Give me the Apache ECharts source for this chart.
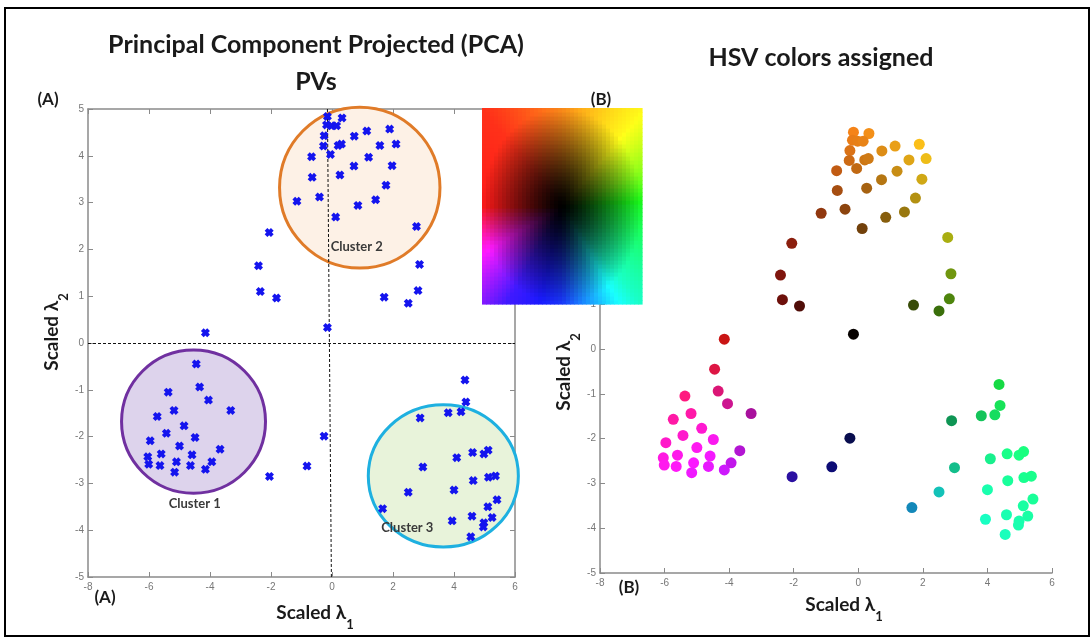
<!DOCTYPE html>
<html>
<head>
<meta charset="utf-8">
<script src="https://cdn.jsdelivr.net/npm/echarts@6/dist/echarts.min.js"></script>
<style>
html,body{margin:0;padding:0;background:#fff;}
#chart{width:1091px;height:639px;}
</style>
</head>
<body>
<div id="chart"></div>
<script>
// ---- data ----
const xVals = [
  -0.15, 0.33, -0.18, -0.02, 0.15, -0.26, 0.73, 1.14, 1.89, -0.28, 0.20, 0.31, -0.05, -0.67, 1.20, 1.57, 2.10,
  0.72, 1.97, -0.65, 0.26, 1.77, -1.15, -0.41, 1.43, 0.85, 0.12, 2.77, 2.87, 2.82, 1.71, 2.50,
  -2.06, -2.41, -2.35, -1.82, -4.15, -0.15,
  -4.45, -5.37, -4.34, -4.05, -3.32, -5.18, -5.73, -4.85, -5.43, -4.49, -5.96, -5.00, -3.67, -5.60, -4.59, -6.04,
  -3.94, -5.10, -6.01, -5.64, -4.64, -4.15, -5.16, -2.05,
  -0.26, -0.82,
  4.36, 4.39, 3.81, 4.23, 2.89, 4.61, 4.98, 5.12, 4.09, 2.98, 4.63, 5.13, 5.36, 4.00, 2.50, 5.41, 5.11, 1.66,
  4.59, 5.25, 3.94, 4.98, 4.96, 4.55
];
const yVals = [
  4.84, 4.81, 4.66, 4.64, 4.64, 4.43, 4.42, 4.53, 4.57, 4.21, 4.22, 4.25, 4.03, 3.98, 3.97, 4.22, 4.25,
  3.78, 3.79, 3.54, 3.59, 3.37, 3.03, 3.12, 3.06, 2.94, 2.69, 2.49, 1.68, 1.12, 0.98, 0.85,
  2.36, 1.65, 1.10, 0.96, 0.22, 0.33,
  -0.45, -1.05, -0.94, -1.22, -1.44, -1.44, -1.57, -1.77, -1.93, -2.02, -2.09, -2.20, -2.27, -2.37, -2.39, -2.43,
  -2.54, -2.54, -2.59, -2.62, -2.62, -2.70, -2.76, -2.85,
  -1.99, -2.63,
  -0.79, -1.26, -1.49, -1.47, -1.60, -2.34, -2.37, -2.29, -2.45, -2.65, -2.94, -2.87, -2.84, -3.14, -3.19, -3.35, -3.50, -3.54,
  -3.70, -3.73, -3.80, -3.84, -3.93, -4.14
];
const xRange = [-8, 6];
const yRange = [-5, 5];
const clusterNames = ['Cluster 1', 'Cluster 2', 'Cluster 3'];
const clusterCenters = [[-4.54, -1.68], [0.91, 3.32], [3.65, -2.84]];
const clusterRadii = [[2.36, 1.53], [2.63, 1.72], [2.46, 1.52]];
const clusterLabelAt = [[-4.5, -3.44], [0.81, 2.05], [2.47, -3.95]];
const zeroLines = [[[-8, 0], [6, 0]], [[-0.15, 5], [-0.02, -5]]];

// ---- HSV colour assignment (angle -> hue, radius -> value) ----
const hueAnchors = [[-180,360],[-157,305],[-125,250],[-90,232],[-65,198],[-45,165],[0,125],[20,90],[45,58],[90,30],[135,6],[180,0]];
function hueOf(deg){
  for (let i=0;i<hueAnchors.length-1;i++){
    const a=hueAnchors[i], b=hueAnchors[i+1];
    if (deg>=a[0] && deg<=b[0]) return a[1]+(b[1]-a[1])*(deg-a[0])/(b[0]-a[0]);
  }
  return 0;
}
function hsv2rgb(h,s,v){
  h=((h%360)+360)%360;
  const c=v*s, x=c*(1-Math.abs((h/60)%2-1)), m=v-c;
  let r=0,g=0,b=0;
  if(h<60){r=c;g=x;}else if(h<120){r=x;g=c;}else if(h<180){g=c;b=x;}
  else if(h<240){g=x;b=c;}else if(h<300){r=x;b=c;}else{r=c;b=x;}
  const f=t=>Math.round((t+m)*255);
  return 'rgb('+f(r)+','+f(g)+','+f(b)+')';
}
function colorFor(x,y){
  const r=Math.sqrt(x*x+y*y);
  const deg=Math.atan2(y,x)*180/Math.PI;
  return hsv2rgb(hueOf(deg), 0.9, Math.pow(Math.min(1, r/5), 1.3));
}
// colour key square cells
const keyCols=40, keyRows=49, keyCells=[];
for(let i=0;i<keyCols;i++) for(let j=0;j<keyRows;j++){
  keyCells.push([-1+(i+0.5)*2/keyCols, -1+(j+0.5)*2/keyRows]);
}

const axisGray='#8a8a8a';
const labelStyle={color:'#777', fontSize:10, fontFamily:'Liberation Sans', margin:5};
function mkX(grid,pos,labels){
  return {gridIndex:grid, type:'value', position:pos, min:xRange[0], max:xRange[1], interval:2,
    axisLine:{show:true, onZero:false, lineStyle:{color:axisGray, width:1.5}},
    axisTick:{show:true, inside:true, length:5, lineStyle:{color:axisGray}},
    axisLabel:{show:labels, ...labelStyle}, splitLine:{show:false}};
}
function mkY(grid,pos,labels){
  return {gridIndex:grid, type:'value', position:pos, min:yRange[0], max:yRange[1], interval:1,
    axisLine:{show:true, onZero:false, lineStyle:{color:axisGray, width:1.5}},
    axisTick:{show:true, inside:true, length:5, lineStyle:{color:axisGray}},
    axisLabel:{show:labels, ...labelStyle, margin:4}, splitLine:{show:false}};
}
const F='Lato, "DejaVu Sans", sans-serif';
const clusterStroke=['#7030a0','#e07b28','#1eb0e0'];
const clusterFill=['#ddd3ec','#fdf1e6','#e8f3da'];
const sub=(x,y,txt,subTxt,rot)=>({type:'text', x:x, y:y, rotation:rot||0, z:50,
  style:{text:'{a|'+txt+'}{s|'+subTxt+'}', align:'center', verticalAlign:'middle', textAlign:'center', textVerticalAlign:'middle',
    rich:{a:{fontFamily:F, fontWeight:'bold', fontSize:19, fill:'#1a1a1a', lineHeight:28, verticalAlign:'top'},
          s:{fontFamily:F, fontWeight:'bold', fontSize:13, fill:'#1a1a1a', lineHeight:12, verticalAlign:'bottom'}}}});
const txt=(x,y,t,size)=>({type:'text', x:x, y:y, z:50,
  style:{text:t, fontFamily:F, fontWeight:'bold', fontSize:size, fill:'#1a1a1a', align:'center', verticalAlign:'middle', textAlign:'center', textVerticalAlign:'middle'}});

const option={
  animation:false,
  backgroundColor:'#ffffff',
  grid:[
    {left:88, top:109, width:427, height:468},
    {left:600, top:125, width:452, height:448},
    {left:482, top:108, width:160, height:196}
  ],
  xAxis:[ mkX(0,'bottom',true), mkX(0,'top',false), mkX(1,'bottom',true),
    {gridIndex:2, type:'value', min:-1, max:1, show:false} ],
  yAxis:[ mkY(0,'left',true), mkY(0,'right',false), mkY(1,'left',true),
    {gridIndex:2, type:'value', min:-1, max:1, show:false} ],
  graphic:[
    {type:'rect', shape:{x:5, y:8, width:1084, height:628}, style:{fill:'none', stroke:'#000', lineWidth:2}, z:-1},
    txt(316,45,'Principal Component Projected (PCA)',25),
    txt(316,82,'PVs',25),
    txt(821,58,'HSV colors assigned',25),
    txt(48,100,'(A)',17),
    txt(105,598,'(A)',17),
    txt(601,100,'(B)',17),
    txt(629,588,'(B)',17),
    sub(315,617,'Scaled λ','1'),
    sub(844,609,'Scaled λ','1'),
    sub(56,332,'Scaled λ','2',Math.PI/2),
    sub(568,372,'Scaled λ','2',Math.PI/2)
  ],
  series:[
    {type:'custom', xAxisIndex:0, yAxisIndex:0, z:1,
      data: clusterCenters.map((c,i)=>[c[0],c[1],clusterRadii[i][0],clusterRadii[i][1],i]),
      renderItem:(params,api)=>{
        const p=api.coord([api.value(0),api.value(1)]);
        const s=api.size([api.value(2),api.value(3)]);
        const i=api.value(4);
        return {type:'ellipse', shape:{cx:p[0], cy:p[1], rx:s[0], ry:s[1]},
          style:{fill:clusterFill[i], stroke:clusterStroke[i], lineWidth:3}};
      }},
    {type:'custom', xAxisIndex:0, yAxisIndex:0, z:3,
      data: clusterLabelAt.map((c,i)=>[c[0],c[1],i]),
      renderItem:(params,api)=>{
        const p=api.coord([api.value(0),api.value(1)]);
        return {type:'text', x:p[0], y:p[1],
          style:{text:clusterNames[api.value(2)], fontFamily:F, fontWeight:'bold', fontSize:13, fill:'#3a3a3a', align:'center', verticalAlign:'middle'}};
      }},
    {type:'scatter', xAxisIndex:0, yAxisIndex:0, z:4,
      symbol:'path://M0,3L3,0L5,2L7,0L10,3L8,5L10,7L7,10L5,8L3,10L0,7L2,5Z', symbolSize:9,
      itemStyle:{color:'#1414ee', opacity:1},
      data: xVals.map((x,i)=>[x,yVals[i]]),
      markLine:{silent:true, symbol:['none','none'], label:{show:false}, z:2,
        lineStyle:{type:[3,2], color:'#111', width:1},
        data: zeroLines.map(l=>[{coord:l[0]},{coord:l[1]}])}
    },
    {type:'scatter', xAxisIndex:2, yAxisIndex:2, z:4, symbol:'circle', symbolSize:11,
      itemStyle:{color:p=>colorFor(p.value[0],p.value[1]), opacity:1},
      data: xVals.map((x,i)=>[x,yVals[i]])},
    {type:'custom', xAxisIndex:3, yAxisIndex:3, z:10,
      data: keyCells,
      renderItem:(params,api)=>{
        const u=api.value(0), v=api.value(1);
        const du=2/keyCols, dv=2/keyRows;
        const p=api.coord([u-du/2, v+dv/2]);
        const s=api.size([du,dv]);
        return {type:'rect', shape:{x:p[0], y:p[1], width:s[0]+0.6, height:s[1]+0.6},
          style:{fill:colorFor(u*5,v*5)}};
      }}
  ]
};
const chart=echarts.init(document.getElementById('chart'),null,{renderer:'canvas'});
chart.setOption(option);
</script>
</body>
</html>
